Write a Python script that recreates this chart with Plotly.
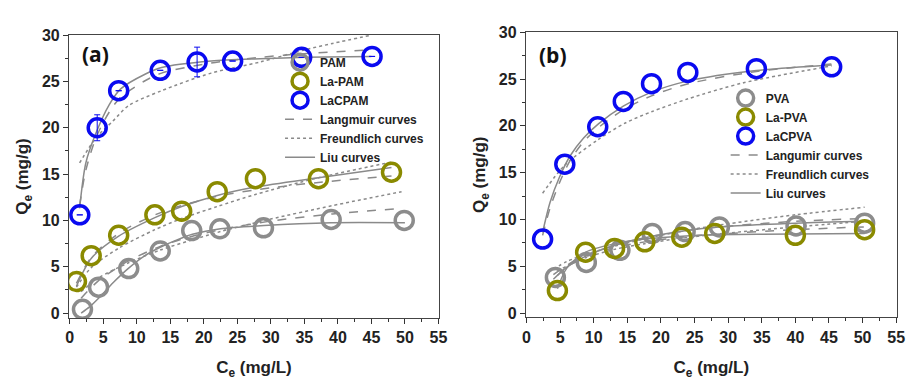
import plotly.graph_objects as go

# ---------------- Panel (a) data ----------------
ce_pam = [1.9, 4.3, 8.8, 13.5, 18.2, 22.4, 28.9, 39.0, 49.9]
qe_pam = [0.4, 2.8, 4.8, 6.7, 8.9, 9.1, 9.2, 10.1, 10.0]
ce_lapam = [1.0, 3.2, 7.3, 12.7, 16.7, 22.0, 27.7, 37.1, 48.0]
qe_lapam = [3.4, 6.2, 8.4, 10.6, 11.0, 13.1, 14.5, 14.5, 15.2]
ce_lacpam = [1.5, 4.1, 7.3, 13.5, 19.0, 24.3, 34.6, 45.1]
qe_lacpam = [10.6, 20.0, 24.0, 26.2, 27.1, 27.2, 27.6, 27.7]
err_lacpam = [0.0, 1.4, 0.0, 0.0, 1.6, 0.0, 0.0, 0.0]

# fitted curves (panel a)
x_pam_fit = [1.7, 3.0, 4.3, 6.5, 8.7, 11.0, 13.5, 16.0, 18.3, 22.5, 29.0, 39.0, 50.0]
liu_pam = [0.0, 0.7, 1.6, 3.3, 4.8, 6.1, 7.1, 7.9, 8.5, 9.1, 9.45, 9.75, 9.75]
x_pam_lf = [1.7, 4.3, 8.7, 13.5, 18.3, 22.5, 29.7, 39.2, 49.5]
lang_pam = [1.6, 3.5, 5.6, 7.2, 8.3, 9.0, 9.9, 10.7, 11.3]
freu_pam = [2.3, 3.8, 5.4, 6.8, 7.9, 8.8, 10.1, 11.6, 13.1]

x_lapam_fit = [1.0, 3.2, 7.3, 12.7, 16.7, 22.0, 27.7, 37.1, 48.0]
liu_lapam = [2.9, 5.9, 8.3, 10.3, 11.5, 12.7, 13.6, 14.6, 15.7]
lang_lapam = [3.2, 6.0, 8.6, 10.6, 11.6, 12.6, 13.3, 14.1, 14.8]
freu_lapam = [2.8, 4.9, 7.0, 9.0, 10.2, 11.5, 12.8, 14.6, 16.3]

x_lacpam_fit = [1.47, 2.4, 3.9, 5.9, 7.6, 11.3, 13.7, 21.1, 28.4, 35.0, 45.0]
liu_lacpam = [11.3, 16.2, 19.4, 22.5, 24.2, 25.8, 26.5, 27.2, 27.45, 27.6, 27.7]
lang_lacpam = [11.6, 15.4, 18.9, 21.7, 23.3, 25.1, 25.9, 27.0, 27.6, 28.0, 28.4]
x_lacpam_fr = [1.47, 3.9, 6.4, 8.8, 13.7, 21.1, 28.4, 35.0, 39.2, 45.0]
freu_lacpam = [16.2, 18.9, 20.7, 22.4, 24.0, 25.9, 27.1, 28.4, 29.1, 30.0]

# ---------------- Panel (b) data ----------------
ce_pva = [4.3, 8.9, 13.9, 18.7, 23.6, 28.7, 40.1, 50.3]
qe_pva = [3.8, 5.4, 6.7, 8.5, 8.7, 9.2, 9.3, 9.6]
ce_lapva = [4.6, 8.8, 13.1, 17.6, 23.1, 28.0, 40.0, 50.3]
qe_lapva = [2.4, 6.5, 6.9, 7.6, 8.1, 8.5, 8.3, 8.9]
ce_lacpva = [2.4, 5.7, 10.6, 14.4, 18.6, 24.0, 34.2, 45.4]
qe_lacpva = [7.9, 15.9, 19.9, 22.6, 24.5, 25.7, 26.1, 26.3]

x_pva_fit = [4.0, 6.0, 8.9, 13.9, 18.7, 23.6, 28.7, 40.1, 50.3]
liu_pva = [3.6, 4.9, 6.1, 7.4, 8.2, 8.8, 9.2, 9.6, 9.8]
lang_pva = [4.1, 5.1, 6.2, 7.4, 8.2, 8.8, 9.2, 9.8, 10.1]
freu_pva = [4.7, 5.5, 6.3, 7.3, 8.1, 8.8, 9.4, 10.5, 11.3]

x_lapva_fit = [4.6, 6.0, 8.8, 13.1, 17.6, 23.1, 28.0, 40.0, 50.3]
liu_lapva = [2.6, 4.8, 6.5, 7.4, 7.9, 8.2, 8.35, 8.45, 8.5]
lang_lapva = [4.0, 4.9, 6.0, 7.0, 7.6, 8.1, 8.4, 8.9, 9.2]
freu_lapva = [4.5, 5.0, 5.9, 6.8, 7.4, 8.0, 8.4, 9.2, 9.8]

x_lacpva_fit = [2.4, 3.5, 4.9, 6.5, 8.5, 10.7, 14.4, 18.6, 24.1, 34.2, 45.4]
liu_lacpva = [8.6, 11.8, 14.5, 16.8, 18.7, 20.2, 22.1, 23.6, 24.8, 25.9, 26.5]
lang_lacpva = [8.3, 11.2, 13.9, 16.3, 18.3, 19.8, 21.7, 23.2, 24.5, 25.8, 26.6]
x_lacpva_fr = [2.4, 5.7, 10.6, 14.7, 18.6, 24.1, 32.3, 45.4]
freu_lacpva = [12.8, 15.8, 18.5, 20.3, 21.5, 22.9, 24.6, 26.4]

x_ticks = [0, 5, 10, 15, 20, 25, 30, 35, 40, 45, 50, 55]
y_ticks = [0, 5, 10, 15, 20, 25, 30]

GRAY = "#8c8c8c"
OLIVE = "#8a8a00"
BLUE = "#0a0af0"
CURVE = "#8a8a8a"
W, H = 919, 380

fig = go.Figure()


def curve(x, y, dash, xa, ya):
    fig.add_trace(go.Scatter(x=x, y=y, mode="lines", xaxis=xa, yaxis=ya,
                             line=dict(color=CURVE, width=1.5, dash=dash, shape="spline", smoothing=0.8),
                             showlegend=False, hoverinfo="skip"))


def points(x, y, color, name, xa, ya, legend, err=None):
    fig.add_trace(go.Scatter(x=x, y=y, mode="markers", name=name, xaxis=xa, yaxis=ya,
                             legend=legend,
                             error_y=(dict(type="data", array=err, color=color, thickness=1, width=3)
                                      if err else None),
                             marker=dict(symbol="circle-open", size=18, color=color,
                                         line=dict(color=color, width=3.5))))


def legline(name, dash, xa, ya, legend):
    fig.add_trace(go.Scatter(x=[None], y=[None], mode="lines", name=name, xaxis=xa, yaxis=ya,
                             legend=legend, line=dict(color=CURVE, width=1.5, dash=dash)))


# Panel (a) curves
for xs, ys in [(x_pam_fit, liu_pam), (x_lapam_fit, liu_lapam), (x_lacpam_fit, liu_lacpam)]:
    curve(xs, ys, "solid", "x", "y")
for xs, ys in [(x_pam_lf, lang_pam), (x_lapam_fit, lang_lapam), (x_lacpam_fit, lang_lacpam)]:
    curve(xs, ys, "dash", "x", "y")
for xs, ys in [(x_pam_lf, freu_pam), (x_lapam_fit, freu_lapam), (x_lacpam_fr, freu_lacpam)]:
    curve(xs, ys, "dot", "x", "y")

points(ce_pam, qe_pam, GRAY, "PAM", "x", "y", "legend")
points(ce_lapam, qe_lapam, OLIVE, "La-PAM", "x", "y", "legend")
points(ce_lacpam, qe_lacpam, BLUE, "LaCPAM", "x", "y", "legend", err=err_lacpam)
legline("Langmuir curves", "dash", "x", "y", "legend")
legline("Freundlich curves", "dot", "x", "y", "legend")
legline("Liu curves", "solid", "x", "y", "legend")

# Panel (b) curves
for xs, ys in [(x_pva_fit, liu_pva), (x_lapva_fit, liu_lapva), (x_lacpva_fit, liu_lacpva)]:
    curve(xs, ys, "solid", "x2", "y2")
for xs, ys in [(x_pva_fit, lang_pva), (x_lapva_fit, lang_lapva), (x_lacpva_fit, lang_lacpva)]:
    curve(xs, ys, "dash", "x2", "y2")
for xs, ys in [(x_pva_fit, freu_pva), (x_lapva_fit, freu_lapva), (x_lacpva_fr, freu_lacpva)]:
    curve(xs, ys, "dot", "x2", "y2")

points(ce_pva, qe_pva, GRAY, "PVA", "x2", "y2", "legend2")
points(ce_lapva, qe_lapva, OLIVE, "La-PVA", "x2", "y2", "legend2")
points(ce_lacpva, qe_lacpva, BLUE, "LaCPVA", "x2", "y2", "legend2")
legline("Langumir curves", "dash", "x2", "y2", "legend2")
legline("Freundlich curves", "dot", "x2", "y2", "legend2")
legline("Liu curves", "solid", "x2", "y2", "legend2")

FONT = "Liberation Sans, Arial, sans-serif"
tickfont = dict(family=FONT, size=16, color="#222", weight="bold")
titlefont = dict(family=FONT, size=17, color="#222", weight="bold")


def xax(domain, rng):
    return dict(domain=domain, range=rng, tickvals=x_ticks, ticks="outside", ticklen=5,
                tickwidth=1.2, tickcolor="#333", showline=True, linecolor="#444", linewidth=1.3,
                mirror=True, showgrid=False, zeroline=False, tickfont=tickfont,
                minor=dict(dtick=2.5, ticks="outside", ticklen=3, tickcolor="#333", tickwidth=1),
                title=dict(text="C<sub>e</sub> (mg/L)", font=titlefont, standoff=17))


def yax(domain, rng, anchor):
    return dict(domain=domain, range=rng, tickvals=y_ticks, ticks="outside", ticklen=5,
                tickwidth=1.2, tickcolor="#333", showline=True, linecolor="#444", linewidth=1.3,
                mirror=True, showgrid=False, zeroline=False, tickfont=tickfont, anchor=anchor,
                minor=dict(dtick=2.5, ticks="outside", ticklen=3, tickcolor="#333", tickwidth=1),
                title=dict(text="Q<sub>e</sub> (mg/g)", font=titlefont, standoff=8))


legfont = dict(family=FONT, size=12, color="#222", weight="bold")

fig.update_layout(
    width=W, height=H, margin=dict(l=0, r=0, t=0, b=0),
    paper_bgcolor="white", plot_bgcolor="white",
    xaxis=xax([66 / W, 441 / W], [-0.1, 55.05]) | dict(anchor="y"),
    yaxis=yax([1 - 320 / H, 1 - 28 / H], [-0.52, 30], "x"),
    xaxis2=xax([529.5 / W, 905.5 / W], [-0.07, 55.07]) | dict(anchor="y2"),
    yaxis2=yax([1 - 319.3 / H, 1 - 25 / H], [-0.45, 30], "x2"),
    legend=dict(x=280 / W, y=1 - 41 / H, xanchor="left", yanchor="top", font=legfont,
                bgcolor="rgba(0,0,0,0)", borderwidth=0, itemwidth=30, tracegroupgap=0),
    legend2=dict(x=732 / W, y=1 - 78 / H, xanchor="left", yanchor="top", font=legfont,
                 bgcolor="rgba(0,0,0,0)", borderwidth=0, itemwidth=30, tracegroupgap=0),
    showlegend=True,
    annotations=[
        dict(text="(a)", x=93 / W, y=1 - 48 / H, xref="paper", yref="paper", showarrow=False,
             xanchor="center", yanchor="middle",
             font=dict(family="Open Sans, sans-serif", size=21, color="#111", weight="bold")),
        dict(text="(b)", x=557 / W, y=1 - 49 / H, xref="paper", yref="paper", showarrow=False,
             xanchor="center", yanchor="middle",
             font=dict(family="Open Sans, sans-serif", size=21, color="#111", weight="bold")),
    ],
)

fig.write_html("out.html")
